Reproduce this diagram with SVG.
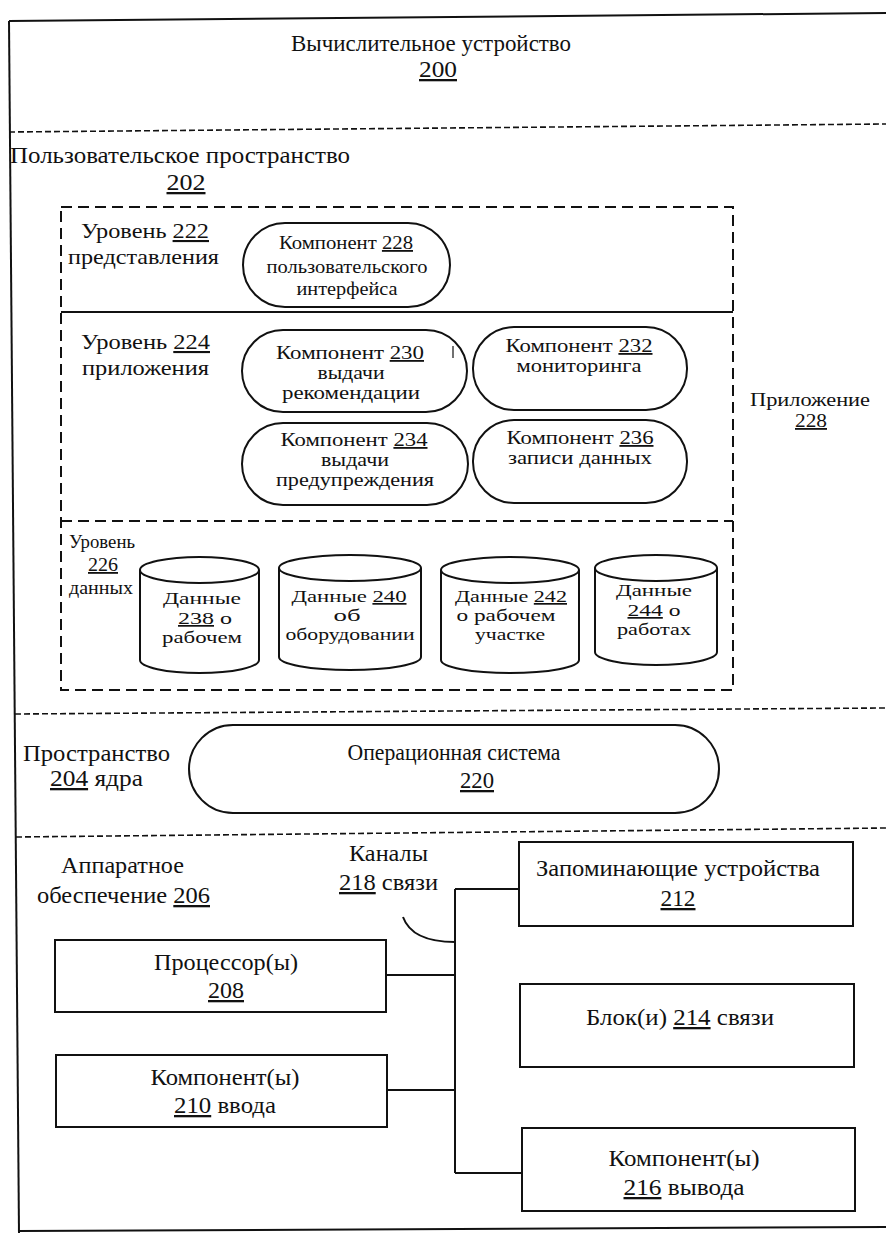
<svg xmlns="http://www.w3.org/2000/svg" width="886" height="1233" viewBox="0 0 886 1233">
<style>
text{font-family:"Liberation Serif","Times New Roman",serif;fill:#111;font-size:23px}
.c{text-anchor:middle}
.u{text-decoration:underline}
.m{font-size:18px}
.d{font-size:17px}
.box{fill:#fff;stroke:#111;stroke-width:2}
.sep{fill:none;stroke:#111;stroke-width:1.6;stroke-dasharray:6 3}
.lay{fill:none;stroke:#111;stroke-width:2;stroke-dasharray:11 6}
.ln{fill:none;stroke:#111;stroke-width:2}
</style>
<rect width="886" height="1233" fill="#fff"/>
<g id="frame">
<line class="ln" x1="9" y1="21" x2="886" y2="13"/>
<line class="ln" x1="9" y1="21" x2="19" y2="1233"/>
<line class="ln" x1="19" y1="1231" x2="886" y2="1227"/>
<line class="sep" x1="9" y1="132" x2="886" y2="124"/>
<line class="sep" x1="15" y1="714" x2="886" y2="708"/>
<line class="sep" x1="16" y1="837" x2="886" y2="828"/>
</g>
<g id="device">
<text class="c" x="431" y="51" textLength="280" lengthAdjust="spacingAndGlyphs">Вычислительное устройство</text>
<text class="c" x="438" y="77" textLength="38" lengthAdjust="spacingAndGlyphs"><tspan class="u">200</tspan></text>
</g>
<g id="userspace">
<text x="10" y="163" textLength="340" lengthAdjust="spacingAndGlyphs">Пользовательское пространство</text>
<text class="c" x="186" y="190" textLength="39" lengthAdjust="spacingAndGlyphs"><tspan class="u">202</tspan></text>
</g>
<g id="application">
<rect class="lay" x="61" y="207" width="672" height="483"/>
<line class="ln" x1="61" y1="312" x2="733" y2="312"/>
<line class="lay" x1="61" y1="521" x2="733" y2="521"/>
<text x="750" y="406" style="font-size:18px" textLength="120" lengthAdjust="spacingAndGlyphs">Приложение</text>
<text class="c" x="811" y="427" style="font-size:18px" textLength="32" lengthAdjust="spacingAndGlyphs"><tspan class="u">228</tspan></text>
</g>
<g id="layer222">
<text x="81" y="238" style="font-size:21px" textLength="128" lengthAdjust="spacingAndGlyphs">Уровень <tspan class="u">222</tspan></text>
<text x="68" y="264" style="font-size:21px" textLength="151" lengthAdjust="spacingAndGlyphs">представления</text>
</g>
<g id="comp228">
<rect class="box" x="243" y="223" width="207" height="84" rx="42"/>
<text class="c m" x="346" y="249" textLength="134" lengthAdjust="spacingAndGlyphs">Компонент <tspan class="u">228</tspan></text>
<text class="c m" x="347" y="273" textLength="161" lengthAdjust="spacingAndGlyphs">пользовательского</text>
<text class="c m" x="347" y="295" textLength="101" lengthAdjust="spacingAndGlyphs">интерфейса</text>
</g>
<g id="layer224">
<text x="81" y="349" style="font-size:21px" textLength="129" lengthAdjust="spacingAndGlyphs">Уровень <tspan class="u">224</tspan></text>
<text x="82" y="375" style="font-size:21px" textLength="127" lengthAdjust="spacingAndGlyphs">приложения</text>
</g>
<g id="comp230">
<rect class="box" x="242" y="330" width="225" height="82" rx="41"/>
<line x1="453" y1="346" x2="453" y2="358" stroke="#111" stroke-width="1.2"/>
<text class="c m" x="350" y="359" textLength="148" lengthAdjust="spacingAndGlyphs">Компонент <tspan class="u">230</tspan></text>
<text class="c m" x="351" y="379" textLength="67" lengthAdjust="spacingAndGlyphs">выдачи</text>
<text class="c m" x="351" y="399" textLength="138" lengthAdjust="spacingAndGlyphs">рекомендации</text>
</g>
<g id="comp232">
<rect class="box" x="473" y="327" width="214" height="83" rx="41"/>
<text class="c m" x="579" y="352" textLength="147" lengthAdjust="spacingAndGlyphs">Компонент <tspan class="u">232</tspan></text>
<text class="c m" x="579" y="372" textLength="125" lengthAdjust="spacingAndGlyphs">мониторинга</text>
</g>
<g id="comp234">
<rect class="box" x="242" y="423" width="226" height="82" rx="41"/>
<text class="c m" x="354" y="446" textLength="147" lengthAdjust="spacingAndGlyphs">Компонент <tspan class="u">234</tspan></text>
<text class="c m" x="355" y="466" textLength="68" lengthAdjust="spacingAndGlyphs">выдачи</text>
<text class="c m" x="355" y="486" textLength="158" lengthAdjust="spacingAndGlyphs">предупреждения</text>
</g>
<g id="comp236">
<rect class="box" x="473" y="420" width="214" height="83" rx="41"/>
<text class="c m" x="580" y="444" textLength="147" lengthAdjust="spacingAndGlyphs">Компонент <tspan class="u">236</tspan></text>
<text class="c m" x="580" y="464" textLength="144" lengthAdjust="spacingAndGlyphs">записи данных</text>
</g>
<g id="layer226">
<text x="69" y="548" style="font-size:18px" textLength="66" lengthAdjust="spacingAndGlyphs">Уровень</text>
<text x="88" y="571" style="font-size:18px" textLength="30" lengthAdjust="spacingAndGlyphs"><tspan class="u">226</tspan></text>
<text x="69" y="594" style="font-size:18px" textLength="64" lengthAdjust="spacingAndGlyphs">данных</text>
</g>
<g id="data238">
<path class="box" d="M140 570 A59.5 13 0 0 1 259 570 L259 660 A59.5 13 0 0 1 140 660 Z"/>
<path class="ln" d="M140 570 A59.5 13 0 0 0 259 570"/>
<text class="c d" x="202" y="604" textLength="78" lengthAdjust="spacingAndGlyphs">Данные</text>
<text class="c d" x="205" y="624" textLength="54" lengthAdjust="spacingAndGlyphs"><tspan class="u">238</tspan> о</text>
<text class="c d" x="202" y="643" textLength="80" lengthAdjust="spacingAndGlyphs">рабочем</text>
</g>
<g id="data240">
<path class="box" d="M279 568 A71 13 0 0 1 421 568 L421 657 A71 13 0 0 1 279 657 Z"/>
<path class="ln" d="M279 568 A71 13 0 0 0 421 568"/>
<text class="c d" x="349" y="602" textLength="115" lengthAdjust="spacingAndGlyphs">Данные <tspan class="u">240</tspan></text>
<text class="c d" x="347" y="621" textLength="27" lengthAdjust="spacingAndGlyphs">об</text>
<text class="c d" x="350" y="640" textLength="129" lengthAdjust="spacingAndGlyphs">оборудовании</text>
</g>
<g id="data242">
<path class="box" d="M441 570 A69 13 0 0 1 579 570 L579 660 A69 13 0 0 1 441 660 Z"/>
<path class="ln" d="M441 570 A69 13 0 0 0 579 570"/>
<text class="c d" x="511" y="602" textLength="112" lengthAdjust="spacingAndGlyphs">Данные <tspan class="u">242</tspan></text>
<text class="c d" x="506" y="621" textLength="99" lengthAdjust="spacingAndGlyphs">о рабочем</text>
<text class="c d" x="510" y="640" textLength="70" lengthAdjust="spacingAndGlyphs">участке</text>
</g>
<g id="data244">
<path class="box" d="M595 568 A61 13 0 0 1 717 568 L717 652 A61 13 0 0 1 595 652 Z"/>
<path class="ln" d="M595 568 A61 13 0 0 0 717 568"/>
<text class="c d" x="654" y="596" textLength="76" lengthAdjust="spacingAndGlyphs">Данные</text>
<text class="c d" x="654" y="616" textLength="53" lengthAdjust="spacingAndGlyphs"><tspan class="u">244</tspan> о</text>
<text class="c d" x="654" y="635" textLength="74" lengthAdjust="spacingAndGlyphs">работах</text>
</g>
<g id="kernel">
<text x="23" y="761" textLength="147" lengthAdjust="spacingAndGlyphs">Пространство</text>
<text x="50" y="786" textLength="93" lengthAdjust="spacingAndGlyphs"><tspan class="u">204</tspan> ядра</text>
</g>
<g id="os220">
<rect class="box" x="189" y="725" width="530" height="88" rx="44"/>
<text class="c" x="454" y="760" textLength="213" lengthAdjust="spacingAndGlyphs">Операционная система</text>
<text class="c" x="477" y="788" textLength="34" lengthAdjust="spacingAndGlyphs"><tspan class="u">220</tspan></text>
</g>
<g id="hardware">
<text x="61" y="873" textLength="123" lengthAdjust="spacingAndGlyphs">Аппаратное</text>
<text x="37" y="903" textLength="173" lengthAdjust="spacingAndGlyphs">обеспечение <tspan class="u">206</tspan></text>
</g>
<g id="bus218">
<text x="349" y="861" textLength="79" lengthAdjust="spacingAndGlyphs">Каналы</text>
<text x="339" y="890" textLength="99" lengthAdjust="spacingAndGlyphs"><tspan class="u">218</tspan> связи</text>
</g>
<g id="connectors">
<path class="ln" d="M455 889 L455 1173"/>
<path class="ln" d="M455 889 L519 889"/>
<path class="ln" d="M386 975 L455 975"/>
<path class="ln" d="M387 1090 L455 1090"/>
<path class="ln" d="M455 1173 L522 1173"/>
<path class="ln" d="M403 917 Q412 942 455 942"/>
</g>
<g id="mem212">
<rect class="box" x="519" y="842" width="334" height="84"/>
<text class="c" x="678" y="876" textLength="284" lengthAdjust="spacingAndGlyphs">Запоминающие устройства</text>
<text class="c" x="678" y="906" textLength="35" lengthAdjust="spacingAndGlyphs"><tspan class="u">212</tspan></text>
</g>
<g id="cpu208">
<rect class="box" x="55" y="940" width="331" height="72"/>
<text class="c" x="226" y="970" textLength="144" lengthAdjust="spacingAndGlyphs">Процессор(ы)</text>
<text class="c" x="226" y="998" textLength="36" lengthAdjust="spacingAndGlyphs"><tspan class="u">208</tspan></text>
</g>
<g id="comm214">
<rect class="box" x="520" y="984" width="334" height="83"/>
<text class="c" x="680" y="1025" textLength="188" lengthAdjust="spacingAndGlyphs">Блок(и) <tspan class="u">214</tspan> связи</text>
</g>
<g id="input210">
<rect class="box" x="56" y="1055" width="331" height="72"/>
<text class="c" x="225" y="1085" textLength="149" lengthAdjust="spacingAndGlyphs">Компонент(ы)</text>
<text class="c" x="225" y="1113" textLength="102" lengthAdjust="spacingAndGlyphs"><tspan class="u">210</tspan> ввода</text>
</g>
<g id="output216">
<rect class="box" x="522" y="1128" width="333" height="83"/>
<text class="c" x="684" y="1166" textLength="151" lengthAdjust="spacingAndGlyphs">Компонент(ы)</text>
<text class="c" x="684" y="1195" textLength="121" lengthAdjust="spacingAndGlyphs"><tspan class="u">216</tspan> вывода</text>
</g>
</svg>
